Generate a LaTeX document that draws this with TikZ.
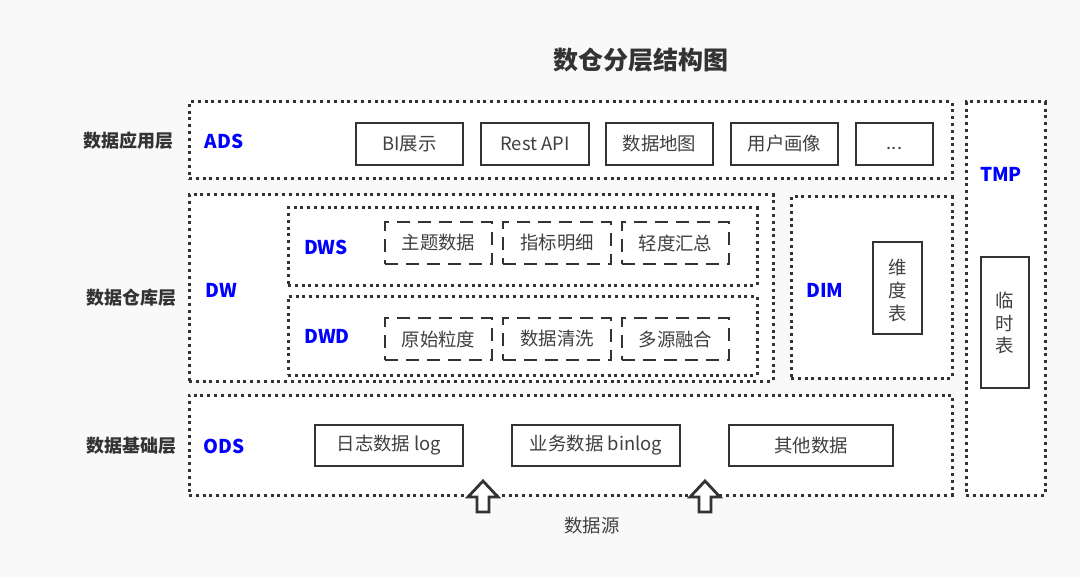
\documentclass[tikz,border=0pt]{standalone}
\usepackage{fontspec}
\setmainfont{Noto Sans CJK SC}
\usetikzlibrary{fit}

\definecolor{linegray}{HTML}{333333}
\definecolor{textgray}{HTML}{404040}
\definecolor{layerblue}{HTML}{0000FF}
\definecolor{bggray}{HTML}{F9F9F9}

\begin{document}
\begin{tikzpicture}[x=0.5pt, y=-0.5pt]
% Styles
\tikzset{
    layer/.style={draw=linegray, line width=1.5pt, dash pattern=on 1.5pt off 1.9pt, fill=white, inner sep=0pt},
    tbl/.style={draw=linegray, line width=1.4pt, fill=white, inner sep=0pt},
    subtbl/.style={tbl, dash pattern=on 6.5pt off 4pt},
    every label/.append style={text=textgray, font=\fontsize{9.2}{11.3}\selectfont, inner sep=0pt},
    tag/.style={text=layerblue, font=\bfseries\fontsize{9.5}{11}\selectfont},
    layername/.style={text=linegray, font=\bfseries\fontsize{9}{11}\selectfont},
    source/.style={draw=linegray, line width=1.4pt, fill=white, line join=miter}
}
\newcommand{\vtext}[1]{\begin{tabular}{@{}c@{}}#1\end{tabular}}

% Canvas
\fill[bggray] (0,0) rectangle (1080,577);
\useasboundingbox (0,0) rectangle (1080,577);

% Title
\node[text=linegray, font=\bfseries\fontsize{12.5}{14}\selectfont] (title) at (641,60) {数仓分层结构图};

% Layers
\node[layer, fit={(189,102) (952,179)}] (ADS) {};
\node[layer, fit={(189,195) (773,381)}] (DW) {};
\node[layer, fit={(288,208) (757,285)}] (DWS) {};
\node[layer, fit={(288,296) (757,375)}] (DWD) {};
\node[layer, fit={(791,197) (952,378)}] (DIM) {};
\node[layer, fit={(189,395) (952,495)}] (ODS) {};
\node[layer, fit={(966,102) (1045,495)}] (TMP) {};

% Layer names
\node[layername] (appname) at (128,141) {数据应用层};
\node[layername] (dwname) at (131,298) {数据仓库层};
\node[layername] (basename) at (131,446) {数据基础层};

\node[tag] (adstag) at (224,141) {ADS};
\node[tag] (dwtag) at (221,290) {DW};
\node[tag] (dwstag) at (326,247) {DWS};
\node[tag] (dwdtag) at (327,336) {DWD};
\node[tag] (dimtag) at (825,290) {DIM};
\node[tag] (odstag) at (224,446) {ODS};
\node[tag] (tmptag) at (1001,174) {TMP};

% Tables
\node[tbl, fit={(356,123) (463,165)}, label=center:BI展示] (bi) {};
\node[tbl, fit={(481,123) (589,165)}, label=center:Rest API] (api) {};
\node[tbl, fit={(606,123) (713,165)}, label=center:数据地图] (map) {};
\node[tbl, fit={(731,123) (838,165)}, label=center:用户画像] (user) {};
\node[tbl, fit={(856,123) (933,165)}, label={[yshift=-2pt]center:...}] (more) {};

\node[subtbl, fit={(385,222) (492,264)}, label=center:主题数据] (theme) {};
\node[subtbl, fit={(503,222) (611,264)}, label=center:指标明细] (metric) {};
\node[subtbl, fit={(622,222) (729,264)}, label=center:轻度汇总] (light) {};

\node[subtbl, fit={(385,318) (492,360)}, label=center:原始粒度] (raw) {};
\node[subtbl, fit={(503,318) (611,360)}, label=center:数据清洗] (clean) {};
\node[subtbl, fit={(622,318) (729,360)}, label=center:多源融合] (merge) {};

\node[tbl, fit={(873,242) (922,334)}, label={[yshift=-2.5pt]center:\vtext{维\\度\\表}}] (dimtbl) {};
\node[tbl, fit={(981,257) (1029,388)}, label={[yshift=-1.5pt]center:\vtext{临\\时\\表}}] (tmptbl) {};

\node[tbl, fit={(315,425) (463,466)}, label=center:日志数据 log] (log) {};
\node[tbl, fit={(512,425) (680,466)}, label=center:业务数据 binlog] (binlog) {};
\node[tbl, fit={(729,425) (893,466)}, label=center:其他数据] (other) {};

% Sources
\node[text=textgray, font=\fontsize{9.2}{11}\selectfont] (src) at (592,526) {数据源};
\coordinate (srcA) at (483,512);
\coordinate (srcB) at (705,512);
\foreach \s in {srcA, srcB}
    \draw[source] (\s) ++(-6,0) -- ++(0,-15) -- ++(-9,0) -- ++(15,-16) -- ++(15,16) -- ++(-9,0) -- ++(0,15) -- cycle;
\end{tikzpicture}
\end{document}
